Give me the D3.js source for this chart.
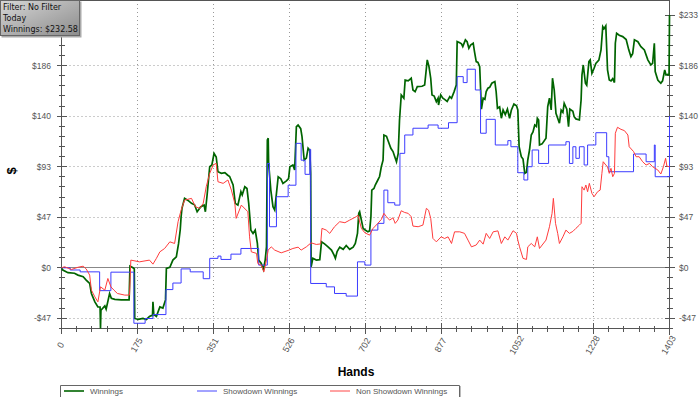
<!DOCTYPE html>
<html>
<head>
<meta charset="utf-8">
<script src="https://cdn.jsdelivr.net/npm/d3@7"></script>
<style>
body{margin:0;background:#fff}
svg{display:block}
</style>
</head>
<body>
<svg width="700" height="397"></svg>
<script>
// ---- data: [hand, dollars] ----
var winnings = [[0,0],[3,-2],[15,-4.5],[30,-5],[38,-6.7],[50,-8.2],[57,-11.3],[65,-14.4],[69,-23.6],[77,-31.3],[84,-35.9],[89,-36],[90,-55.8],[91,-39],[100,-35],[103,-38],[111,-23.6],[115,-28],[123,-29],[138,-29.5],[156,-29.5],[158,1.6],[165,0],[168,-1],[169,-46.6],[177,-47.5],[188,-46.6],[196,-47.5],[203,-44.7],[207,-44],[210,-44],[211,-31.3],[213,-43],[219,-44.7],[227,-35.9],[234,-37],[240,-29.5],[242,-0.6],[250,0.5],[257,7.1],[265,10.1],[270,22],[274,35],[276,47],[278,54.7],[284,63.9],[292,62],[300,59.3],[307,58],[313,51.6],[321,56],[329,57.7],[332,51.6],[336,67],[342,93],[347,94.6],[352,105.3],[357,102],[361,88.4],[369,86.9],[377,87.5],[383,85.4],[388,84],[396,76.2],[401,59.3],[407,57.7],[414,70],[417,67],[423,74.6],[428,73],[432,59.3],[437,34.7],[442,31.7],[447,34.7],[452,22.4],[455,7.1],[461,4],[466,-1.5],[470,7.1],[473,19.3],[475,117.6],[477,119.2],[478,96.1],[483,71.5],[488,56.2],[492,53.1],[496,68.5],[500,83.8],[506,82],[511,77.7],[519,80],[524,82],[527,93],[534,94.6],[538,90],[542,129.8],[546,131.4],[552,128],[555,120.6],[560,99.2],[565,101],[569,110],[573,108],[575,86.9],[576,0.9],[580,8.7],[588,7.1],[596,7.5],[600,23.9],[607,22],[615,19.3],[623,16.3],[629,11.7],[632,8.7],[636,15],[642,19],[650,17],[657,20.5],[665,17],[673,19],[678,22.4],[683,31.7],[686,50.1],[688,51.6],[692,43.9],[696,36.3],[700,35],[707,33.1],[711,34],[714,47],[716,71.5],[721,73],[724,76.2],[730,80.8],[734,84],[738,93],[742,99],[744,122.2],[750,121],[753,117.6],[760,110],[765,107],[769,102.2],[773,97.6],[777,105.3],[780,136],[784,159],[790,156],[793,172.8],[800,172],[807,174.4],[811,163.6],[816,162],[821,166.7],[832,167],[838,168.2],[844,191.3],[848,185.1],[852,174.4],[855,159],[860,158],[865,152.9],[869,156],[870,149.8],[875,159],[880,156],[884,155],[890,153],[896,157.5],[900,156],[906,162.1],[911,168.2],[913,208.1],[919,207],[923,206],[926,203.5],[932,209.7],[936,208],[940,202],[944,205],[950,206.6],[953,198.9],[957,189.7],[961,189],[965,185.1],[969,145.9],[973,156],[977,155],[980,162.1],[984,165.2],[988,166],[993,169.8],[1000,171.3],[1003,162],[1006,146.8],[1011,148],[1015,137.6],[1019,145.2],[1024,141],[1029,146],[1034,137.6],[1038,145],[1044,150.7],[1050,149],[1053,145.2],[1056,111.4],[1061,102.2],[1065,100],[1069,86.9],[1073,88],[1076,99.2],[1080,108.4],[1084,122.2],[1088,125],[1092,131.4],[1096,130],[1098,137.6],[1101,136],[1103,113],[1109,114],[1118,119.2],[1122,148.3],[1126,156],[1130,145.2],[1133,174.4],[1137,163.6],[1141,142.2],[1145,137.6],[1149,133],[1153,145],[1157,143],[1160,151.4],[1166,146],[1170,129.8],[1173,146],[1180,144],[1183,139],[1187,137],[1195,136],[1199,154.4],[1201,177.4],[1204,186.6],[1209,169.8],[1212,168],[1217,189.7],[1220,191.3],[1224,179],[1229,183.6],[1233,188],[1240,191],[1245,200.5],[1249,221.9],[1252,220],[1256,222.6],[1260,182],[1264,172.8],[1268,172],[1272,174],[1276,170.4],[1278,206.6],[1281,215.8],[1287,214],[1295,212.7],[1303,210],[1309,200.5],[1314,194.3],[1318,197],[1322,209.7],[1330,208],[1337,203.5],[1345,200.5],[1353,191.3],[1360,186.6],[1364,188],[1368,206.6],[1370,180.5],[1376,172.8],[1380,171],[1383,169.8],[1387,172],[1392,182],[1395,177.4],[1399,178],[1402,177.4],[1403,232.58]];

var showdown = [[0,0],[20,-2],[43,-3.7],[88,-21],[114,-4],[167,-51],[193,-46.6],[211,-43],[241,-20],[257,-14],[276,-1],[297,-3.7],[327,-10],[342,8.7],[361,10.8],[368,7.7],[391,12.6],[414,17.8],[455,2.5],[475,96],[480,37.8],[496,65.4],[523,76],[541,114.5],[553,99],[562,86],[573,109],[575,-14.4],[611,-17.5],[630,-23.6],[657,-26],[683,5.5],[700,2.5],[714,34.7],[730,40.9],[744,71.5],[753,59.9],[769,57.7],[781,105.3],[792,122.2],[811,128.4],[846,131.4],[869,128.4],[893,133.5],[913,175.9],[927,170.4],[936,182.7],[955,163.6],[967,123.8],[980,136.6],[1001,113],[1030,117],[1037,111.4],[1053,87.5],[1067,80.8],[1076,93],[1086,108.4],[1101,96],[1124,113],[1164,116],[1172,96],[1180,111.4],[1187,100.7],[1195,111.4],[1206,94.6],[1214,113],[1233,124.3],[1258,102.2],[1263,88.4],[1320,104.7],[1349,97.6],[1368,113],[1370,83.8],[1402,83.8],[1403,139.55]];

var nonShowdown = [[0,0],[7,1],[23,-1.5],[38,0.5],[50,1.5],[57,-1],[65,-6.7],[69,-20.5],[77,-26.7],[84,-31.3],[90,-17.5],[100,-20.5],[107,-9.8],[114,-17.5],[121,-20.5],[129,-23.6],[146,-25.1],[157,-25.1],[160,7.1],[180,5.5],[203,7.1],[211,3.4],[219,8.7],[227,14.7],[238,17.8],[250,23.9],[261,22.4],[269,42.4],[276,53],[284,62.3],[300,63.9],[309,56.2],[319,54.7],[327,59.3],[334,74.6],[342,86.9],[350,94.6],[357,96.1],[361,79.2],[373,77.7],[384,80.8],[392,71.5],[400,59.3],[403,45.5],[415,57.7],[430,51.6],[434,28.5],[438,14.7],[450,13.3],[453,4],[461,2.5],[467,-3.7],[473,7.1],[477,16.3],[484,19.3],[492,16.3],[507,13.8],[523,16],[534,17.8],[546,19],[553,16.3],[565,19.3],[576,23],[588,21.5],[598,22],[601,36.3],[611,34.7],[619,31.7],[630,37.8],[642,42.4],[654,41.5],[665,43.9],[680,47],[684,48.5],[692,36.3],[700,32.2],[711,30.1],[719,36.3],[730,40.9],[738,44.5],[744,50.1],[750,47],[757,43.9],[765,46],[770,40.9],[776,43.9],[784,52.5],[792,50.9],[800,50.1],[807,47],[811,38.4],[823,37.8],[834,39.3],[842,54.7],[847,53],[852,45.5],[857,27.1],[865,23.9],[876,28.5],[884,27],[892,28.5],[900,22.4],[907,33.1],[919,33.1],[930,31.7],[938,25.5],[946,19.3],[957,21],[965,25.5],[973,21.8],[980,31.7],[988,27],[996,33.1],[1007,34],[1015,22.4],[1023,28.5],[1030,25.5],[1042,34.1],[1050,31.7],[1053,25.5],[1057,19.3],[1065,8.7],[1073,7.7],[1076,19.3],[1084,22.4],[1092,19.3],[1098,28.5],[1103,17.8],[1118,25.5],[1126,37.8],[1132,50.1],[1135,63.9],[1140,40.9],[1145,31.7],[1149,22.4],[1157,28.5],[1164,34.7],[1172,31.7],[1180,33.5],[1187,36.3],[1195,39.3],[1199,40.9],[1201,74.6],[1206,71.5],[1210,76.2],[1214,70],[1218,77.7],[1224,68.5],[1229,65.4],[1237,70],[1243,71.5],[1247,86.9],[1250,97.6],[1256,94.6],[1260,93],[1264,86.9],[1268,91.5],[1272,83.8],[1276,86.9],[1278,123.8],[1283,129.3],[1291,127.4],[1299,126.2],[1307,122.2],[1310,111.4],[1320,107],[1326,102.2],[1333,102.2],[1341,97.6],[1349,94.6],[1357,96],[1364,93],[1376,90],[1383,86.3],[1389,93],[1394,100.7],[1397,93.5],[1403,93]];

var yTicks = [-46.52, 0, 46.52, 93.03, 139.55, 186.06, 232.58];
var yTickLabels = ["-$47", "$0", "$47", "$93", "$140", "$186", "$233"];
var xTicks = [0, 175.375, 350.75, 526.125, 701.5, 876.875, 1052.25, 1227.625, 1403];
var xTickLabels = ["0", "175", "351", "526", "702", "877", "1052", "1228", "1403"];
var seriesNames = ["Winnings", "Showdown Winnings", "Non Showdown Winnings"];
var infoLines = ["Filter: No Filter", "Today", "Winnings: $232.58"];


var svg = d3.select("svg");
var font = "'Liberation Sans', Arial, sans-serif";
var crisp = v => Math.round(v - 0.5) + 0.5;

svg.append("rect").attr("width", 700).attr("height", 397).attr("fill", "#fff");

// scales
var x = d3.scaleLinear().domain([0, 1403]).range([61.5, 669.5]);
var y = d3.scaleLinear().domain([-55.82, 232.58]).range([328.5, 15]);
var xMinor = d3.range(0, 41).map(i => i * 1403 / 40);
var yMinor = d3.range(-6, 26).map(i => i * 232.58 / 25);
var left = x(0), right = x(1403), top = y(232.58), bottom = y(-55.82);


// grid
var grid = svg.append("g").attr("stroke", "#999").attr("stroke-dasharray", "1,3");
grid.selectAll(".gx").data(xTicks.slice(1, -1)).enter().append("line")
    .attr("x1", d => crisp(x(d))).attr("x2", d => crisp(x(d)))
    .attr("y1", top).attr("y2", bottom);
grid.selectAll(".gy").data(yTicks.filter(d => d != 0 && d < 232)).enter().append("line")
    .attr("x1", left).attr("x2", right)
    .attr("y1", d => crisp(y(d))).attr("y2", d => crisp(y(d)));

svg.append("line")
    .attr("x1", left).attr("x2", right)
    .attr("y1", crisp(y(0))).attr("y2", crisp(y(0)))
    .attr("stroke", "#888");


// axes frame + crossing ticks
var ax = svg.append("g").attr("stroke", "#555").attr("shape-rendering", "crispEdges");
ax.append("line").attr("x1", left).attr("x2", left).attr("y1", top).attr("y2", bottom);
ax.append("line").attr("x1", right).attr("x2", right).attr("y1", top).attr("y2", bottom + 6);
ax.append("line").attr("x1", left).attr("x2", right).attr("y1", bottom).attr("y2", bottom);
ax.append("line").attr("x1", left).attr("x2", right).attr("y1", top).attr("y2", top);

[left, right].forEach(function(ax0){
    ax.selectAll(null).data(yMinor).enter().append("line")
        .attr("x1", ax0 - 3).attr("x2", ax0 + 3)
        .attr("y1", d => crisp(y(d))).attr("y2", d => crisp(y(d)));
    ax.selectAll(null).data(yTicks).enter().append("line")
        .attr("x1", ax0 - 5).attr("x2", ax0 + 5)
        .attr("y1", d => crisp(y(d))).attr("y2", d => crisp(y(d)));
});
ax.selectAll(null).data(xMinor).enter().append("line")
    .attr("x1", d => crisp(x(d))).attr("x2", d => crisp(x(d)))
    .attr("y1", bottom - 3).attr("y2", bottom + 3);
ax.selectAll(null).data(xTicks).enter().append("line")
    .attr("x1", d => crisp(x(d))).attr("x2", d => crisp(x(d)))
    .attr("y1", bottom - 6).attr("y2", bottom + 5);
ax.selectAll(null).data(xMinor).enter().append("line")
    .attr("x1", d => crisp(x(d))).attr("x2", d => crisp(x(d)))
    .attr("y1", top).attr("y2", top + 4);


// tick labels (the top-left one sits under the info box in the original, so it is skipped)
var labels = svg.append("g").attr("font-family", font).attr("font-size", 8.5).attr("fill", "#555");
labels.selectAll(".yl").data(yTicks.slice(0, -1)).enter().append("text")
    .attr("x", 51).attr("y", d => y(d)).attr("dy", "0.35em")
    .attr("text-anchor", "end")
    .text((d, i) => yTickLabels[i]);
labels.selectAll(".yr").data(yTicks).enter().append("text")
    .attr("x", 679).attr("y", d => y(d)).attr("dy", "0.35em")
    .text((d, i) => yTickLabels[i]);
labels.selectAll(".xl").data(xTicks).enter().append("text")
    .attr("transform", d => "translate(" + (x(d) - 1) + ",345) rotate(-60)")
    .attr("dy", "0.35em").attr("text-anchor", "middle")
    .attr("font-size", 9)
    .text((d, i) => xTickLabels[i]);

svg.append("text").attr("x", 356).attr("y", 376)
    .attr("text-anchor", "middle").attr("font-family", font)
    .attr("font-weight", "bold").attr("font-size", 12).text("Hands");
svg.append("text").attr("transform", "translate(16,171) rotate(-90)")
    .attr("text-anchor", "middle").attr("font-family", font)
    .attr("font-weight", "bold").attr("font-size", 13).text("$");


// series
var line = d3.line().x(d => x(d[0])).y(d => y(d[1]));
var stepLine = d3.line().curve(d3.curveStepAfter).x(d => x(d[0])).y(d => y(d[1]));
svg.append("path").attr("d", line(winnings))
    .attr("fill", "none").attr("stroke", "#006400").attr("stroke-width", 1.7);
svg.append("path").attr("d", stepLine(showdown))
    .attr("fill", "none").attr("stroke", "#3c3cff").attr("stroke-width", 1);
svg.append("path").attr("d", line(nonShowdown))
    .attr("fill", "none").attr("stroke", "#ff3c3c").attr("stroke-width", 1);


// legend
var colors = ["#006400", "#4646ff", "#ff4646"];
var lg = svg.append("g");
lg.append("path").attr("d", "M60.5,400V385.5H459.5V400")
    .attr("fill", "none").attr("stroke", "#666");
lg.append("line").attr("x1", 460.5).attr("x2", 460.5).attr("y1", 386).attr("y2", 400)
    .attr("stroke", "#bbb");
var item = lg.selectAll(".it").data(seriesNames).enter().append("g")
    .attr("transform", (d, i) => "translate(" + (64 + i * 133) + ",391)");
item.append("line").attr("x1", 0).attr("x2", 20)
    .attr("stroke", (d, i) => colors[i]).attr("stroke-width", (d, i) => i == 0 ? 1.6 : 1);
item.append("text").attr("x", 26).attr("dy", "0.35em")
    .attr("font-family", font).attr("font-size", 8).attr("fill", "#555")
    .text(d => d);


// info box
var defs = svg.append("defs");
var grad = defs.append("linearGradient").attr("id", "box")
    .attr("x1", 0).attr("y1", 0).attr("x2", 1).attr("y2", 1);
grad.append("stop").attr("offset", 0).attr("stop-color", "#d6d6d6");
grad.append("stop").attr("offset", 1).attr("stop-color", "#8c8c8c");
svg.append("rect").attr("x", 1.5).attr("y", 1.5).attr("width", 80).attr("height", 36)
    .attr("fill", "#aaa");
svg.append("rect").attr("x", 0.5).attr("y", 0.5).attr("width", 79).attr("height", 35)
    .attr("fill", "url(#box)").attr("stroke", "#666");
svg.append("g").attr("font-family", "'DejaVu Sans', sans-serif").attr("font-size", 8).attr("fill", "#111")
    .selectAll("text").data(infoLines).enter().append("text")
    .attr("x", 3).attr("y", (d, i) => 10 + i * 11)
    .text(d => d);
</script>
</body>
</html>
